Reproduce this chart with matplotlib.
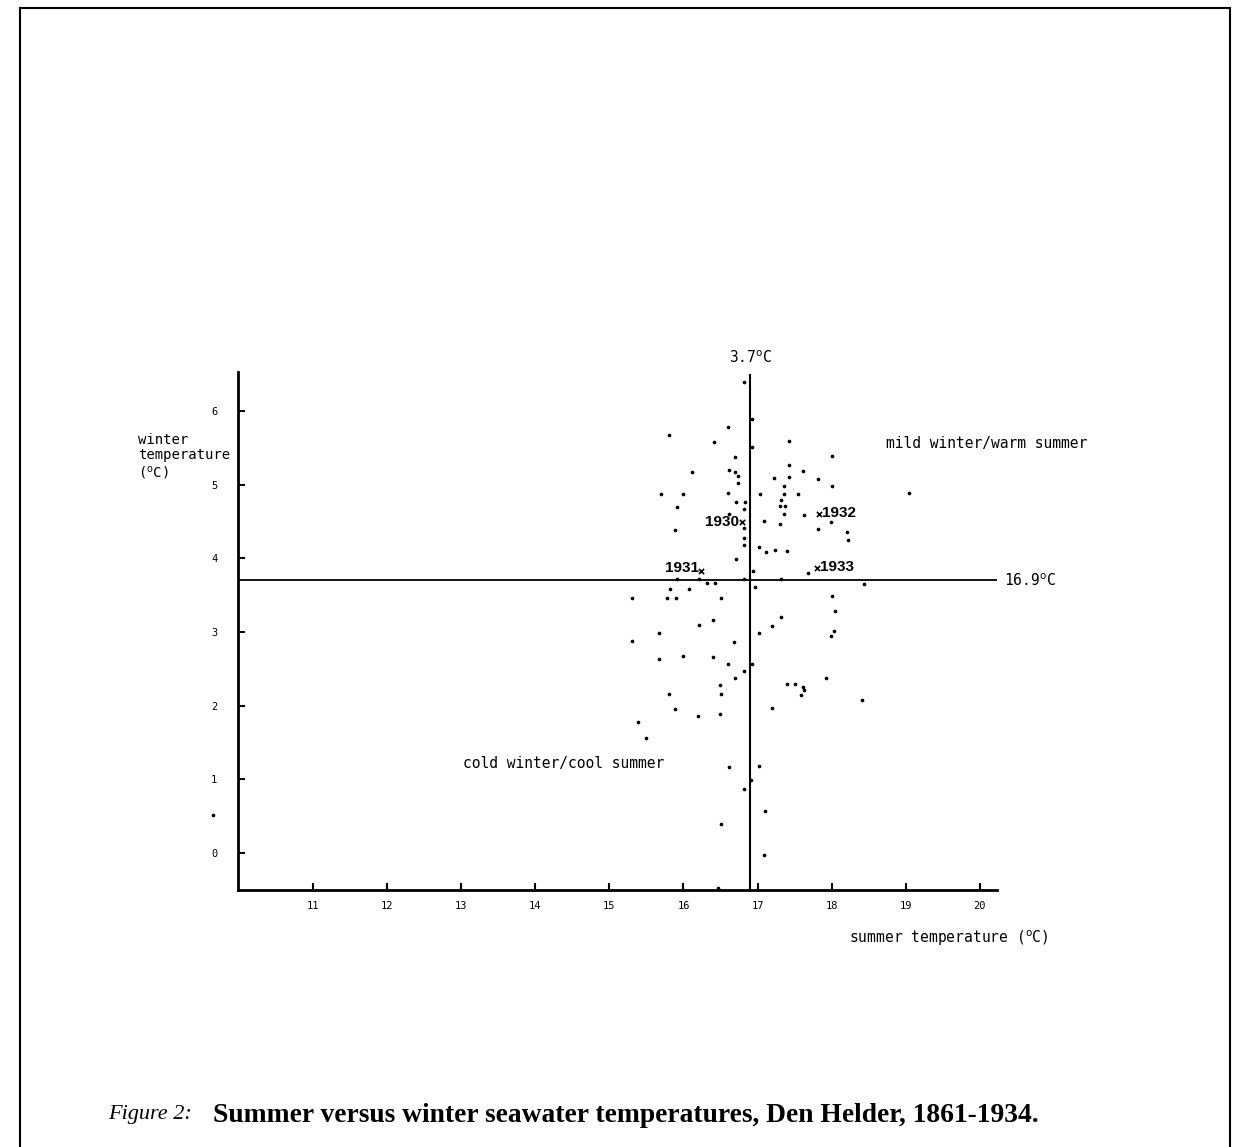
import matplotlib
matplotlib.use('Agg')
import matplotlib.pyplot as plt
import numpy as np
from matplotlib.patches import Rectangle

# summer (x) / winter (y) seawater temperatures
summer = [16.82, 16.92, 16.92, 15.80, 16.60, 16.41, 17.43, 18.01, 16.69, 16.11,
          16.62, 16.69, 16.73, 16.73, 17.43, 17.61, 17.22, 17.43, 17.81, 17.36,
          18.00, 15.70, 16.00, 16.60, 17.03, 17.54, 17.35, 15.91, 16.71, 16.83,
          17.32, 17.30, 17.37, 16.61, 16.82, 17.36, 17.62, 17.99, 15.88, 17.09,
          17.30, 16.81, 17.82, 18.21, 18.22, 16.81, 16.81, 17.02, 17.11, 17.23,
          17.40, 16.71, 16.94, 17.68, 19.04,
          15.91, 16.21, 16.32, 16.43, 16.82, 17.32, 18.43, 16.97, 15.82, 16.08,
          15.31, 15.78, 15.90, 16.51, 18.00, 18.05, 17.32, 16.40, 16.21, 17.20,
          18.03, 17.99, 15.67, 17.02, 15.30, 16.68, 15.67, 16.00, 16.40, 16.60,
          16.81, 16.92, 16.70, 16.49, 16.50, 17.92, 17.40, 17.50, 17.61, 17.62,
          17.59, 18.41, 15.80, 15.88, 16.19, 16.49, 17.20, 15.38, 15.50, 16.62,
          17.02, 16.91, 16.82, 17.10, 16.51, 17.09, 16.47, 9.65]
winter = [6.39, 5.89, 5.51, 5.67, 5.78, 5.58, 5.59, 5.39, 5.37, 5.17,
          5.20, 5.17, 5.12, 5.02, 5.27, 5.19, 5.09, 5.11, 5.08, 4.98,
          4.98, 4.87, 4.87, 4.89, 4.88, 4.88, 4.87, 4.70, 4.77, 4.77,
          4.79, 4.71, 4.71, 4.60, 4.67, 4.60, 4.59, 4.49, 4.38, 4.51,
          4.47, 4.41, 4.40, 4.36, 4.25, 4.27, 4.18, 4.15, 4.08, 4.12,
          4.10, 3.99, 3.83, 3.80, 4.89,
          3.72, 3.72, 3.67, 3.67, 3.72, 3.72, 3.65, 3.61, 3.59, 3.58,
          3.46, 3.46, 3.46, 3.46, 3.49, 3.29, 3.21, 3.17, 3.09, 3.08,
          3.01, 2.94, 2.99, 2.99, 2.88, 2.87, 2.63, 2.67, 2.66, 2.56,
          2.47, 2.56, 2.37, 2.28, 2.16, 2.37, 2.29, 2.29, 2.26, 2.21,
          2.15, 2.08, 2.16, 1.95, 1.86, 1.89, 1.97, 1.78, 1.56, 1.17,
          1.18, 0.99, 0.87, 0.57, 0.39, -0.03, -0.47, 0.52]

years = ['1930', '1931', '1932', '1933']
year_summer = [16.79, 16.24, 17.83, 17.80]
year_winter = [4.50, 3.83, 4.60, 3.87]

mean_summer = 16.9
mean_winter = 3.7

x_ticks = [11, 12, 13, 14, 15, 16, 17, 18, 19, 20]
y_ticks = [0, 1, 2, 3, 4, 5, 6]

mono = 'DejaVu Sans Mono'
deg = '$^{\\mathrm{o}}$'

fig = plt.figure(figsize=(12.41, 11.47), dpi=100)
ax = fig.add_axes([0.1918, 0.2241, 0.6116, 0.4516])

ax.scatter(summer, winter, s=7, color='black', marker='o', linewidths=0, clip_on=False)
ax.scatter(year_summer, year_winter, s=14, color='black', marker='x', linewidths=1.2)
offsets = {'1930': (-2, 0, 'right'), '1931': (-2, 2, 'right'),
           '1932': (2, 1, 'left'), '1933': (2, 1, 'left')}
for lab, xv, yv in zip(years, year_summer, year_winter):
    dx, dy, ha = offsets[lab]
    ax.annotate(lab, (xv, yv), xytext=(dx, dy), textcoords='offset points', ha=ha, va='center',
                fontsize=11, fontweight='bold', family='Liberation Sans')

ax.axhline(mean_winter, color='black', lw=1.3)
ax.plot([mean_summer, mean_summer], [-0.5, 6.49], color='black', lw=1.5)

ax.set_xlim(9.99, 20.23)
ax.set_ylim(-0.5, 6.53)
ax.spines['top'].set_visible(False)
ax.spines['right'].set_visible(False)
ax.spines['left'].set_linewidth(2)
ax.spines['bottom'].set_linewidth(2)
ax.set_xticks(x_ticks)
ax.set_yticks(y_ticks)
ax.tick_params(direction='in', length=5, width=1.5, labelsize=7.5)
ax.tick_params(axis='x', pad=8)
ax.tick_params(axis='y', pad=15)
for t in ax.get_xticklabels() + ax.get_yticklabels():
    t.set_family(mono)

ax.text(mean_summer, 6.72, '3.7' + deg + 'C', ha='center', va='center', fontsize=10.5, family=mono)
ax.text(20.32, mean_winter, '16.9' + deg + 'C', ha='left', va='center', fontsize=10.5, family=mono,
        clip_on=False)
ax.text(18.73, 5.56, 'mild winter/warm summer', ha='left', va='center', fontsize=10.5, family=mono)
ax.text(13.02, 1.21, 'cold winter/cool summer', ha='left', va='center', fontsize=10.5, family=mono)
ax.text(8.64, 5.70, 'winter\ntemperature\n(' + deg + 'C)', ha='left', va='top', fontsize=10,
        family=mono, linespacing=1.1)
ax.text(18.23, -1.15, 'summer temperature (' + deg + 'C)', ha='left', va='center', fontsize=10.5,
        family=mono)

# page frame
fig.patches.append(Rectangle((20 / 1241, -0.01), 1210 / 1241, 1 - 8 / 1147 + 0.01,
                             transform=fig.transFigure, fill=False, lw=1.5, color='black'))

fig.text(108 / 1241, 1 - 1115 / 1147, 'Figure 2:', fontsize=16, style='italic',
         family='Liberation Serif', va='center')
fig.text(213 / 1241, 1 - 1115 / 1147,
         'Summer versus winter seawater temperatures, Den Helder, 1861-1934.',
         fontsize=19.8, fontweight='bold', family='Liberation Serif', va='center')

fig.savefig('out.png', dpi=100)
